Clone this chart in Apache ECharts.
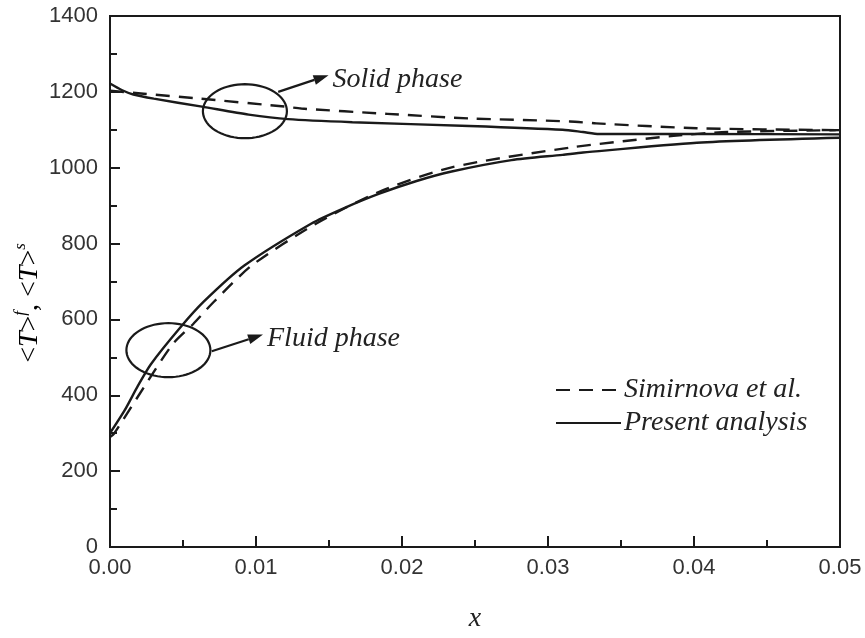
<!DOCTYPE html>
<html>
<head>
<meta charset="utf-8">
<script src="https://cdn.jsdelivr.net/npm/echarts@6/dist/echarts.min.js"></script>
<style>
  html, body { margin: 0; padding: 0; background: #fff; }
  #main { width: 865px; height: 638px; }
</style>
</head>
<body>
<div id="main"></div>
<script>
// x positions and temperatures
var solidRefX = [0, 0.0023, 0.0062, 0.012, 0.0131, 0.019, 0.0246, 0.0315, 0.0333, 0.0402, 0.05];
var solidRefY = [1203, 1195, 1182, 1161, 1156, 1142, 1130, 1122, 1117, 1104, 1099];

var fluidRefX = [0, 0.0003, 0.0025, 0.0043, 0.0057, 0.0071, 0.0097, 0.014, 0.0184, 0.0234, 0.0315, 0.0386, 0.0423, 0.05];
var fluidRefY = [290, 300, 432, 535, 588, 646, 742, 850, 936, 1001, 1053, 1084, 1094, 1099];

var solidNowX = [0, 0.0008, 0.0016, 0.003, 0.0063, 0.0095, 0.0122, 0.0166, 0.0246, 0.031, 0.0324, 0.0335, 0.04, 0.05];
var solidNowY = [1222, 1205, 1193, 1182, 1161, 1140, 1128, 1120, 1110, 1100, 1094, 1089, 1089, 1088];

var fluidNowX = [0, 0.001, 0.0019, 0.0028, 0.0048, 0.0064, 0.0092, 0.0138, 0.016, 0.0184, 0.021, 0.0234, 0.0275, 0.031, 0.0324, 0.0402, 0.05];
var fluidNowY = [300, 360, 424, 482, 578, 646, 742, 853, 893, 931, 965, 990, 1020, 1034, 1040, 1066, 1079];

var legendNames = ['Simirnova et al.', 'Present analysis'];

function pairs(xs, ys) {
  return xs.map(function (x, i) { return [x, ys[i]]; });
}

var ink = '#1a1a1a';
var serif = '"Liberation Serif", "Times New Roman", serif';
var sans = '"Liberation Sans", Arial, sans-serif';

function lineSeries(name, xs, ys, dashed) {
  return {
    name: name,
    type: 'line',
    data: pairs(xs, ys),
    symbol: 'none',
    smooth: 0.25,
    lineStyle: { color: ink, width: 2.4, type: dashed ? [14, 9] : 'solid' },
    itemStyle: { color: ink },
    z: 3
  };
}

var chart = echarts.init(document.getElementById('main'));

var option = {
  animation: false,
  backgroundColor: '#fff',
  grid: {
    left: 110, right: 25, top: 16, bottom: 82,
    show: true, borderColor: ink, borderWidth: 2
  },
  legend: {
    data: legendNames,
    orient: 'vertical',
    left: 555, top: 376,
    itemWidth: 65, itemHeight: 14, itemGap: 5,
    padding: 0,
    itemStyle: { opacity: 0 },
    textStyle: { fontFamily: serif, fontStyle: 'italic', fontSize: 28, color: '#222', padding: [0, 0, 0, -2] }
  },
  xAxis: {
    type: 'value',
    min: 0, max: 0.05, interval: 0.01,
    axisLine: { lineStyle: { color: ink, width: 2 } },
    axisTick: { inside: true, length: 11, lineStyle: { color: ink, width: 2 } },
    minorTick: { show: true, splitNumber: 2, length: 7, lineStyle: { color: ink, width: 2 } },
    splitLine: { show: false },
    axisLabel: { fontFamily: sans, fontSize: 22, color: '#333', margin: 10,
      formatter: function (v) { return v.toFixed(2); } },
    name: 'x',
    nameLocation: 'middle',
    nameGap: 58,
    nameTextStyle: { fontFamily: serif, fontStyle: 'italic', fontSize: 28, color: '#222' }
  },
  yAxis: {
    type: 'value',
    min: 0, max: 1400, interval: 200,
    axisLine: { lineStyle: { color: ink, width: 2 } },
    axisTick: { inside: true, length: 10, lineStyle: { color: ink, width: 2 } },
    minorTick: { show: true, splitNumber: 2, length: 7, lineStyle: { color: ink, width: 2 } },
    splitLine: { show: false },
    axisLabel: { fontFamily: sans, fontSize: 22, color: '#333', margin: 12,
      formatter: function (v) { return String(v); } }
  },
  series: [
    lineSeries(legendNames[0], solidRefX, solidRefY, true),
    lineSeries(legendNames[0], fluidRefX, fluidRefY, true),
    lineSeries(legendNames[1], solidNowX, solidNowY, false),
    lineSeries(legendNames[1], fluidNowX, fluidNowY, false)
  ]
};
chart.setOption(option);

// annotations: ellipse around the curves, arrow, label (anchors in data units)
var notes = [
  { text: 'Solid phase', center: [0.00924, 1149], from: [0.01152, 1200], to: [0.01497, 1244] },
  { text: 'Fluid phase', center: [0.0040, 519], from: [0.00697, 516], to: [0.01048, 560] }
];

function ellipsePoints(cx, cy, rx, ry) {
  var pts = [];
  for (var i = 0; i < 72; i++) {
    var a = i / 72 * Math.PI * 2;
    pts.push([cx + rx * Math.cos(a), cy + ry * Math.sin(a)]);
  }
  return pts;
}

var g = [];
notes.forEach(function (n) {
  var c = chart.convertToPixel({ gridIndex: 0 }, n.center);
  var p0 = chart.convertToPixel({ gridIndex: 0 }, n.from);
  var p1 = chart.convertToPixel({ gridIndex: 0 }, n.to);
  g.push({ type: 'polygon', shape: { points: ellipsePoints(c[0], c[1], 42, 27) },
    style: { fill: null, stroke: ink, lineWidth: 2.2 }, z: 10 });
  var dx = p1[0] - p0[0], dy = p1[1] - p0[1];
  var len = Math.sqrt(dx * dx + dy * dy);
  var ux = dx / len, uy = dy / len;
  var hb = [p1[0] - ux * 15, p1[1] - uy * 15];
  g.push({ type: 'line', shape: { x1: p0[0], y1: p0[1], x2: hb[0], y2: hb[1] },
    style: { stroke: ink, lineWidth: 2.2 }, z: 10 });
  g.push({ type: 'polygon', shape: { points: [
      p1,
      [hb[0] - uy * 5, hb[1] + ux * 5],
      [hb[0] + uy * 5, hb[1] - ux * 5]
    ] }, style: { fill: ink }, z: 10 });
  g.push({ type: 'text', x: p1[0] + 4, y: p1[1] + 4,
    style: { text: n.text, font: 'italic 28px ' + serif, fill: '#222',
      textAlign: 'left', textVerticalAlign: 'middle' }, z: 10 });
});

// y-axis title  <T>^f, <T>^s
g.push({
  type: 'text', x: 30, y: 303, rotation: Math.PI / 2,
  style: {
    text: '{a|<}{t|T}{a|>}{s|f}{a|, <}{t|T}{a|>}{s|s}',
    textAlign: 'center', textVerticalAlign: 'middle',
    rich: {
      a: { fontFamily: serif, fontSize: 28, color: '#222', lineHeight: 36 },
      t: { fontFamily: serif, fontStyle: 'italic', fontSize: 28, color: '#222', lineHeight: 36 },
      s: { fontFamily: serif, fontStyle: 'italic', fontSize: 17, color: '#222', lineHeight: 17, verticalAlign: 'top' }
    }
  },
  z: 10
});

chart.setOption({ graphic: { elements: g } });
</script>
</body>
</html>
